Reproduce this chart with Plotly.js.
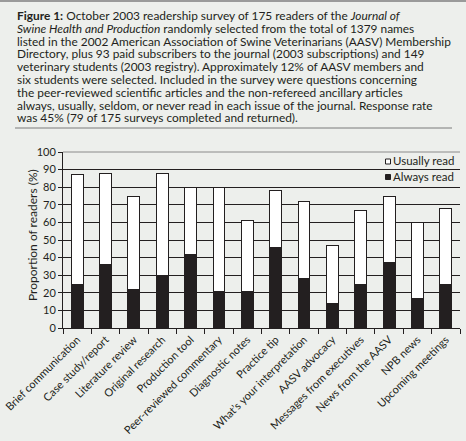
<!DOCTYPE html>
<html>
<head>
<meta charset="utf-8">
<script src="https://cdn.plot.ly/plotly-3.0.1.min.js"></script>
<style>
html,body{margin:0;padding:0;background:#edefec;}
#chart{width:466px;height:441px;}
</style>
</head>
<body>
<div id="chart"></div>
<script>
// ---- data ----
var categories = [
  "Brief communication", "Case study/report", "Literature review", "Original research",
  "Production tool", "Peer-reviewed commentary", "Diagnostic notes", "Practice tip",
  "What\u2019s your interpretation", "AASV advocacy", "Messages from executives",
  "News from the AASV", "NPB news", "Upcoming meetings"
];
var alwaysRead  = [25, 36, 22, 30, 42, 21, 21, 46, 28, 14, 25, 37, 17, 25];
var usuallyRead = [62, 52, 53, 58, 38, 59, 40, 32, 44, 33, 42, 38, 43, 43];
var seriesNames = ["Always read", "Usually read"];
var yTickVals = [0, 10, 20, 30, 40, 50, 60, 70, 80, 90, 100];
var captionLines = [
  "<b>Figure 1:</b> October 2003 readership survey of 175 readers of the <i>Journal of</i>",
  "<i>Swine Health and Production</i> randomly selected from the total of 1379 names",
  "listed in the 2002 American Association of Swine Veterinarians (AASV) Membership",
  "Directory, plus 93 paid subscribers to the journal (2003 subscriptions) and 149",
  "veterinary students (2003 registry). Approximately 12% of AASV members and",
  "six students were selected. Included in the survey were questions concerning",
  "the peer-reviewed scientific articles and the non-refereed ancillary articles",
  "always, usually, seldom, or never read in each issue of the journal. Response rate",
  "was 45% (79 of 175 surveys completed and returned)."
];

// ---- layout geometry (pixels) ----
var W = 466, H = 441;
var M = {l: 63, r: 6, t: 152, b: 113};
var plotW = W - M.l - M.r, plotH = H - M.t - M.b;
function px(x) { return (x - M.l) / plotW; }
function py(y) { return (H - M.b - y) / plotH; }

var FONT = "Lato, 'Liberation Sans', sans-serif";
var TXT = "#231f20";
var BG = "#edefec";

var traces = [
  {type: "bar", name: seriesNames[0], x: categories, y: alwaysRead,
   marker: {color: "#231f20", line: {color: "#231f20", width: 1}}, width: 0.42,
   showlegend: false, hoverinfo: "x+y"},
  {type: "bar", name: seriesNames[1], x: categories, y: usuallyRead,
   marker: {color: "#ffffff", line: {color: "#231f20", width: 1}}, width: 0.42,
   showlegend: false, hoverinfo: "x+y"}
];

var annotations = [];
var captionStart = 15.5, captionStep = 12.8;
captionLines.forEach(function (t, i) {
  annotations.push({xref: "paper", yref: "paper", x: px(15), y: py(captionStart + i * captionStep),
    xanchor: "left", yanchor: "middle", text: t, showarrow: false,
    font: {family: FONT, size: 11.9, color: TXT}});
});
// y axis title
annotations.push({xref: "paper", yref: "paper", x: px(32), y: py(235), text: "Proportion of readers (%)",
  textangle: -90, showarrow: false, xanchor: "center", yanchor: "middle",
  font: {family: FONT, size: 12, color: TXT}});
// legend text
annotations.push({xref: "paper", yref: "paper", x: px(391), y: py(160), text: seriesNames[1],
  showarrow: false, xanchor: "left", yanchor: "middle", font: {family: FONT, size: 11.5, color: TXT}});
annotations.push({xref: "paper", yref: "paper", x: px(391), y: py(176), text: seriesNames[0],
  showarrow: false, xanchor: "left", yanchor: "middle", font: {family: FONT, size: 11.5, color: TXT}});

var shapes = [
  // top border
  {type: "line", xref: "paper", yref: "paper", x0: px(0), x1: px(W), y0: py(1), y1: py(1),
   line: {color: "#9a9a9a", width: 2}},
  // caption separator
  {type: "line", xref: "paper", yref: "paper", x0: px(15), x1: px(452), y0: py(128), y1: py(128),
   line: {color: "#7a7a7a", width: 1}},
  // top gridline (grey)
  {type: "line", xref: "paper", yref: "paper", x0: 0, x1: 1, y0: 1, y1: 1,
   line: {color: "#8a8a8a", width: 1}, layer: "above"},
  // legend squares
  {type: "rect", xref: "paper", yref: "paper", x0: px(385.5), x1: px(390.5), y0: py(159), y1: py(164),
   fillcolor: "#ffffff", line: {color: "#231f20", width: 1}, layer: "above"},
  {type: "rect", xref: "paper", yref: "paper", x0: px(385.5), x1: px(390.5), y0: py(174.5), y1: py(179.5),
   fillcolor: "#231f20", line: {color: "#231f20", width: 1}, layer: "above"}
];

var layout = {
  width: W, height: H,
  margin: M,
  paper_bgcolor: BG, plot_bgcolor: BG,
  barmode: "stack",
  showlegend: false,
  font: {family: FONT, size: 12, color: TXT},
  xaxis: {
    type: "category", tickangle: -45, ticks: "outside", tickson: "boundaries",
    ticklen: 5, tickcolor: "#231f20", showline: true, linecolor: "#231f20", linewidth: 1,
    showgrid: false, tickfont: {family: FONT, size: 11, color: TXT}, fixedrange: true
  },
  yaxis: {
    range: [0, 100], tickvals: yTickVals, ticks: "outside", ticklen: 4, tickcolor: "#231f20",
    showline: true, linecolor: "#231f20", linewidth: 1, showgrid: true, gridcolor: "#231f20",
    gridwidth: 1, zeroline: false, tickfont: {family: FONT, size: 11, color: TXT}, fixedrange: true
  },
  annotations: annotations,
  shapes: shapes
};

Plotly.newPlot("chart", traces, layout, {displayModeBar: false, staticPlot: true});
</script>
</body>
</html>
